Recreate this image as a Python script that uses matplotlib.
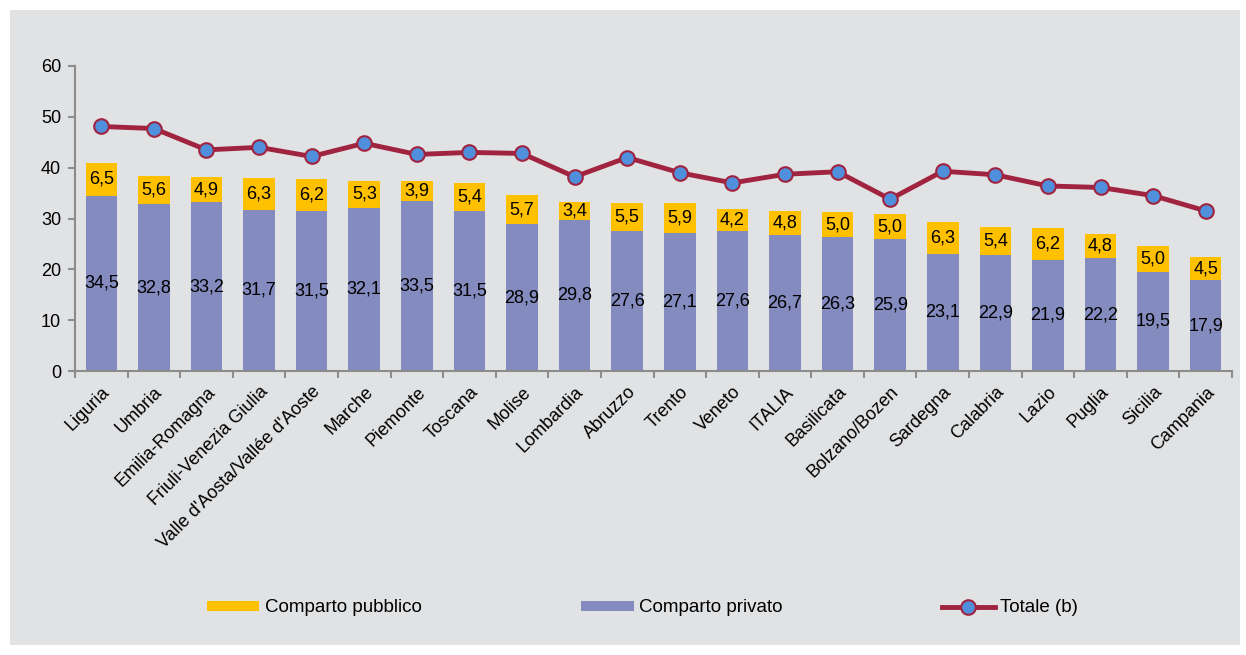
import matplotlib
matplotlib.use("Agg")
from matplotlib import pyplot as plt
from matplotlib.patches import Rectangle
import numpy as np

regioni = ["Liguria", "Umbria", "Emilia-Romagna", "Friuli-Venezia Giulia",
           "Valle d'Aosta/Vallée d'Aoste", "Marche", "Piemonte", "Toscana",
           "Molise", "Lombardia", "Abruzzo", "Trento", "Veneto", "ITALIA",
           "Basilicata", "Bolzano/Bozen", "Sardegna", "Calabria", "Lazio",
           "Puglia", "Sicilia", "Campania"]
privato = [34.5, 32.8, 33.2, 31.7, 31.5, 32.1, 33.5, 31.5, 28.9, 29.8, 27.6,
           27.1, 27.6, 26.7, 26.3, 25.9, 23.1, 22.9, 21.9, 22.2, 19.5, 17.9]
pubblico = [6.5, 5.6, 4.9, 6.3, 6.2, 5.3, 3.9, 5.4, 5.7, 3.4, 5.5,
            5.9, 4.2, 4.8, 5.0, 5.0, 6.3, 5.4, 6.2, 4.8, 5.0, 4.5]
totale = [48.1, 47.7, 43.5, 44.0, 42.2, 44.8, 42.6, 43.0, 42.8, 38.2, 42.0,
          39.0, 37.0, 38.7, 39.2, 33.8, 39.3, 38.6, 36.4, 36.1, 34.5, 31.5]

plt.rcParams['font.family'] = ['Liberation Sans', 'DejaVu Sans']

bg = "#E1E2E4"
c_pub = "#FFC000"
c_priv = "#838BBF"
c_line = "#A0243F"
c_mark = "#4F8FDB"
grigio = "#8C8C8C"

fig = plt.figure(figsize=(12.46, 6.55), dpi=100)
fig.patch.set_facecolor("white")
fig.patches.append(Rectangle((10/1246, 10/655), 1230/1246, 635/655,
                             transform=fig.transFigure, facecolor=bg,
                             edgecolor="none", zorder=-10))

ax = fig.add_axes([75/1246, 1-371/655, (1232-75)/1246, (371-66)/655])
ax.set_facecolor(bg)

pos = np.arange(len(regioni))
larg = 0.6
b1 = ax.bar(pos, privato, larg, color=c_priv, label="Comparto privato", zorder=2)
b2 = ax.bar(pos, pubblico, larg, bottom=privato, color=c_pub,
            label="Comparto pubblico", zorder=2)
l1, = ax.plot(pos, totale, color=c_line, lw=3.5, marker="o", ms=10.5,
              mfc=c_mark, mec=c_line, mew=1.5, label="Totale (b)", zorder=3)

for i in range(len(regioni)):
    ax.text(pos[i], privato[i] / 2, ("%.1f" % privato[i]).replace(".", ","),
            ha="center", va="center", fontsize=13, zorder=4)
    ax.text(pos[i], privato[i] + pubblico[i] / 2,
            ("%.1f" % pubblico[i]).replace(".", ","),
            ha="center", va="center", fontsize=13, zorder=4)

ax.set_xlim(-0.5, len(regioni) - 0.5)
ax.set_ylim(0, 60)
ax.set_yticks(np.arange(0, 61, 10))
ax.set_xticks(pos)
ax.set_xticklabels(regioni, rotation=45, ha="right", rotation_mode="anchor",
                   fontsize=13)
ax.set_xticks(np.arange(-0.5, len(regioni), 1), minor=True)
ax.tick_params(axis="x", which="major", length=0, pad=9)
ax.tick_params(axis="x", which="minor", length=5, color=grigio, width=1.5)
ax.tick_params(axis="y", length=5, color=grigio, width=1.5, labelsize=13, pad=5)
for s in ["top", "right"]:
    ax.spines[s].set_visible(False)
for s in ["left", "bottom"]:
    ax.spines[s].set_color(grigio)
    ax.spines[s].set_linewidth(1.5)

leg = fig.legend([b2, b1, l1], ["Comparto pubblico", "Comparto privato", "Totale (b)"],
                 loc="center", bbox_to_anchor=(0.5157, 1-608/655), ncol=3,
                 frameon=False, fontsize=13.5, columnspacing=8.5,
                 handlelength=2.8, handletextpad=0.3, handleheight=0.5)

fig.savefig("out.png", dpi=100, facecolor=fig.get_facecolor())
